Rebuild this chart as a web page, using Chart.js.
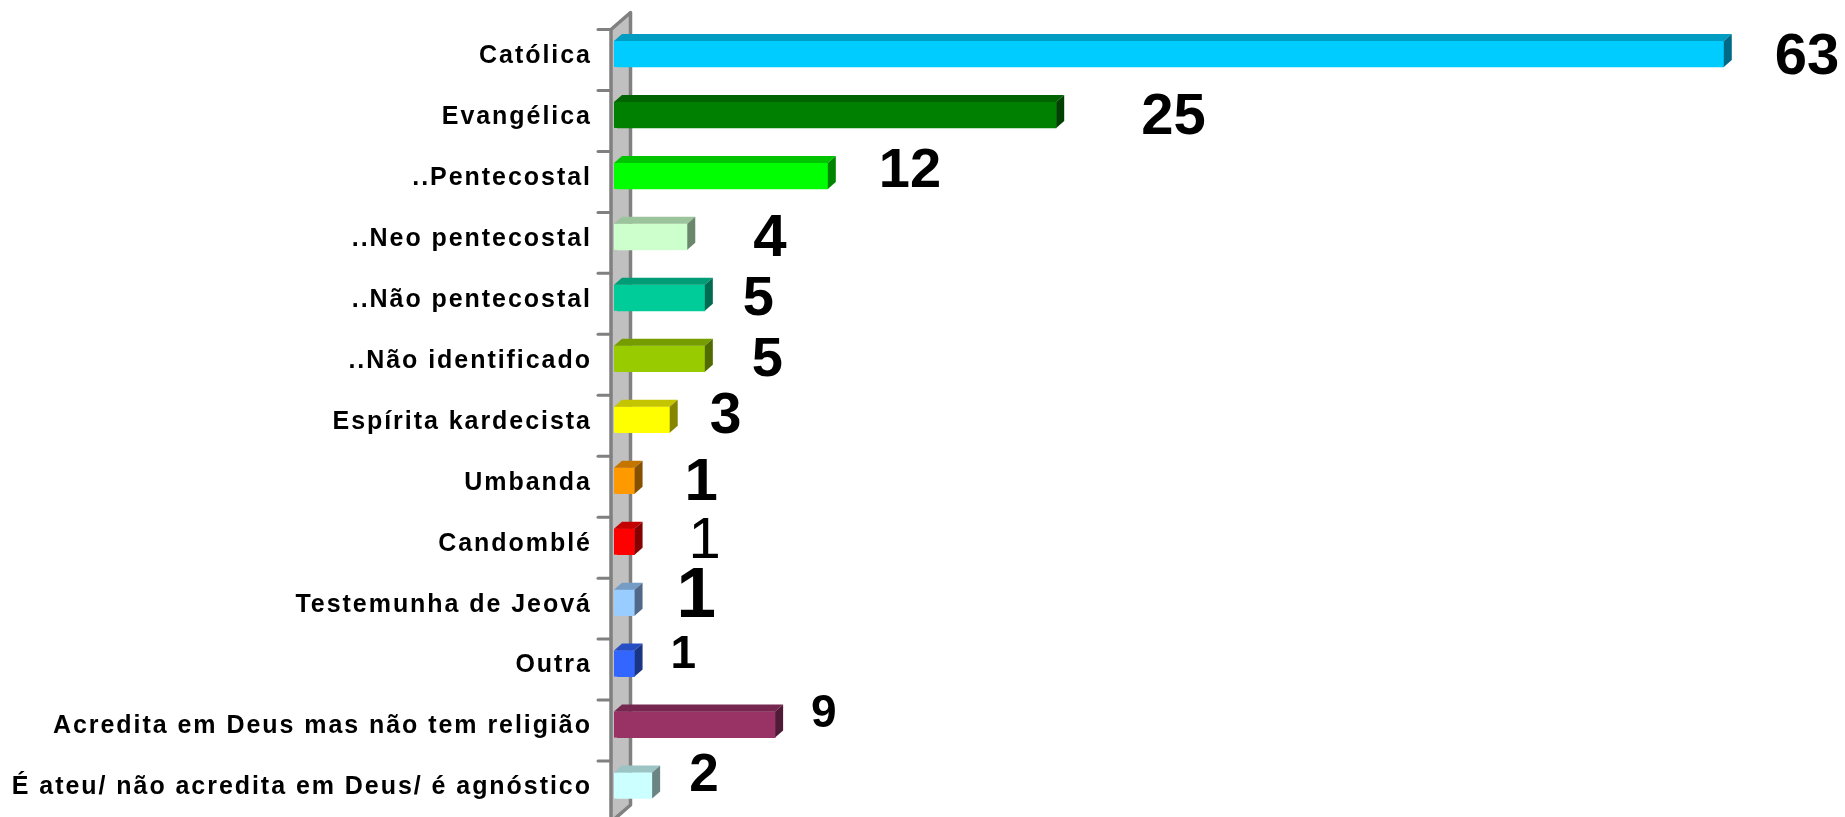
<!DOCTYPE html>
<html>
<head>
<meta charset="utf-8">
<script src="https://cdn.jsdelivr.net/npm/chart.js@4/dist/chart.umd.min.js"></script>
<style>
html,body{margin:0;padding:0;background:#ffffff;overflow:hidden}
canvas{display:block}
</style>
</head>
<body>
<canvas id="c" width="1845" height="817"></canvas>
<script>
// ---- data ----
const categories = [
  "Católica",
  "Evangélica",
  "..Pentecostal",
  "..Neo pentecostal",
  "..Não pentecostal",
  "..Não identificado",
  "Espírita kardecista",
  "Umbanda",
  "Candomblé",
  "Testemunha de Jeová",
  "Outra",
  "Acredita em Deus mas não tem religião",
  "É ateu/ não acredita em Deus/ é agnóstico"
];
const values = [63, 25, 12, 4, 5, 5, 3, 1, 1, 1, 1, 9, 2];
const valueLabels = ["63", "25", "12", "4", "5", "5", "3", "1", "1", "1", "1", "9", "2"];

// ---- styles ----
const frontColors = ["#00CCFF","#008000","#00FF00","#CCFFCC","#00CC99","#99CC00","#FFFF00","#FF9900","#FF0000","#99CCFF","#3366FF","#993366","#CCFFFF"];
const topColors   = ["#009CC2","#006400","#00C400","#9CC49C","#009C75","#759C00","#C4C400","#C47500","#C40000","#759CC4","#274EC4","#752750","#9CC4C4"];
const sideColors  = ["#006985","#004000","#008500","#6B876B","#006B50","#506B00","#858500","#855000","#850000","#50698A","#1B3585","#501B36","#6B8585"];
const SANS = '"Liberation Sans", Arial, Helvetica, sans-serif';
// per-label look: ink offset from bar end, vertical offset from bar centre, font
const labelLook = [
  {dx:53, dy:0,    size:58, weight:"bold",   family:SANS},
  {dx:87, dy:-1,   size:58, weight:"bold",   family:SANS},
  {dx:54, dy:-8,   size:56, weight:"bold",   family:SANS},
  {dx:66, dy:-1.5, size:60, weight:"bold",   family:SANS},
  {dx:39, dy:-1,   size:56, weight:"bold",   family:SANS},
  {dx:48, dy:-1,   size:56, weight:"bold",   family:SANS},
  {dx:41, dy:-7,   size:57, weight:"bold",   family:SANS},
  {dx:53, dy:-1,   size:60, weight:"bold",   family:SANS},
  {dx:58, dy:-4,   size:58, weight:"normal", family:SANS},
  {dx:46, dy:-10,  size:71, weight:"bold",   family:SANS},
  {dx:38, dy:-12,  size:46, weight:"bold",   family:SANS},
  {dx:37, dy:-14,  size:46, weight:"bold",   family:SANS},
  {dx:38, dy:-13.5,size:53, weight:"bold",   family:SANS}
];

const DEPTH_X = 8, DEPTH_Y = 7, BAR_H = 26;

const pseudo3D = {
  id: "pseudo3d",
  beforeDatasetsDraw(chart) {
    const ctx = chart.ctx;
    const ys = chart.scales.y;
    const n = categories.length;
    const band = (ys.bottom - ys.top) / n;
    const tickY = i => ys.top + i * band + 6;
    // wall
    const wl = 611, wr = 630.5, wdy = 17;
    const yTop = tickY(0), yBot = tickY(n);
    ctx.save();
    ctx.beginPath();
    ctx.moveTo(wl, yTop);
    ctx.lineTo(wr, yTop - wdy);
    ctx.lineTo(wr, yBot - wdy);
    ctx.lineTo(wl, yBot);
    ctx.closePath();
    ctx.fillStyle = "#C0C0C0";
    ctx.fill();
    ctx.strokeStyle = "#808080";
    ctx.lineWidth = 3.5;
    ctx.lineJoin = "round";
    ctx.stroke();
    // ticks
    ctx.lineWidth = 3;
    ctx.lineCap = "round";
    for (let i = 0; i <= n; i++) {
      const y = tickY(i);
      ctx.beginPath();
      ctx.moveTo(598, y);
      ctx.lineTo(611, y);
      ctx.stroke();
    }
    // category labels
    ctx.fillStyle = "#000000";
    ctx.font = "bold 25px " + SANS;
    ctx.letterSpacing = "1.95px";
    ctx.textAlign = "right";
    ctx.textBaseline = "alphabetic";
    for (let i = 0; i < n; i++) {
      const yc = ys.getPixelForValue(i);
      ctx.fillText(categories[i], 591.9, yc + 8.9);
    }
    ctx.letterSpacing = "0px";
    ctx.restore();
  },
  afterDatasetsDraw(chart) {
    const ctx = chart.ctx;
    const meta = chart.getDatasetMeta(0);
    ctx.save();
    meta.data.forEach((bar, i) => {
      const p = bar.getProps(["x", "y", "base"], true);
      const x0 = 614, x1 = p.x;
      const yt = p.y - BAR_H / 2, yb = p.y + BAR_H / 2;
      // front strip under the wall
      ctx.fillStyle = frontColors[i];
      ctx.fillRect(x0, yt, p.base - x0 + 0.5, BAR_H);
      // top face
      ctx.beginPath();
      ctx.moveTo(x0, yt);
      ctx.lineTo(x0 + DEPTH_X, yt - DEPTH_Y);
      ctx.lineTo(x1 + DEPTH_X, yt - DEPTH_Y);
      ctx.lineTo(x1, yt);
      ctx.closePath();
      ctx.fillStyle = topColors[i];
      ctx.fill();
      // side face
      ctx.beginPath();
      ctx.moveTo(x1, yt);
      ctx.lineTo(x1 + DEPTH_X, yt - DEPTH_Y);
      ctx.lineTo(x1 + DEPTH_X, yb - DEPTH_Y);
      ctx.lineTo(x1, yb);
      ctx.closePath();
      ctx.fillStyle = sideColors[i];
      ctx.fill();
      // value label
      const lk = labelLook[i];
      ctx.font = lk.weight + " " + lk.size + "px " + lk.family;
      ctx.textAlign = "left";
      ctx.textBaseline = "alphabetic";
      ctx.fillStyle = "#000000";
      const m = ctx.measureText(valueLabels[i]);
      const inkLeft = x1 + lk.dx;
      const cy = p.y + lk.dy;
      const baseY = cy + (m.actualBoundingBoxAscent - m.actualBoundingBoxDescent) / 2;
      ctx.fillText(valueLabels[i], inkLeft + m.actualBoundingBoxLeft, baseY);
    });
    ctx.restore();
  }
};

new Chart(document.getElementById("c"), {
  type: "bar",
  data: {
    labels: categories,
    datasets: [{
      data: values,
      backgroundColor: frontColors,
      borderWidth: 0,
      barThickness: BAR_H
    }]
  },
  options: {
    indexAxis: "y",
    responsive: false,
    devicePixelRatio: 1,
    animation: false,
    layout: { padding: { left: 617, right: 0, top: 23.5, bottom: 1 } },
    scales: {
      x: { display: false, min: 0, max: 69.9 },
      y: { display: false, offset: true }
    },
    plugins: { legend: { display: false }, tooltip: { enabled: false } }
  },
  plugins: [pseudo3D]
});
</script>
</body>
</html>
